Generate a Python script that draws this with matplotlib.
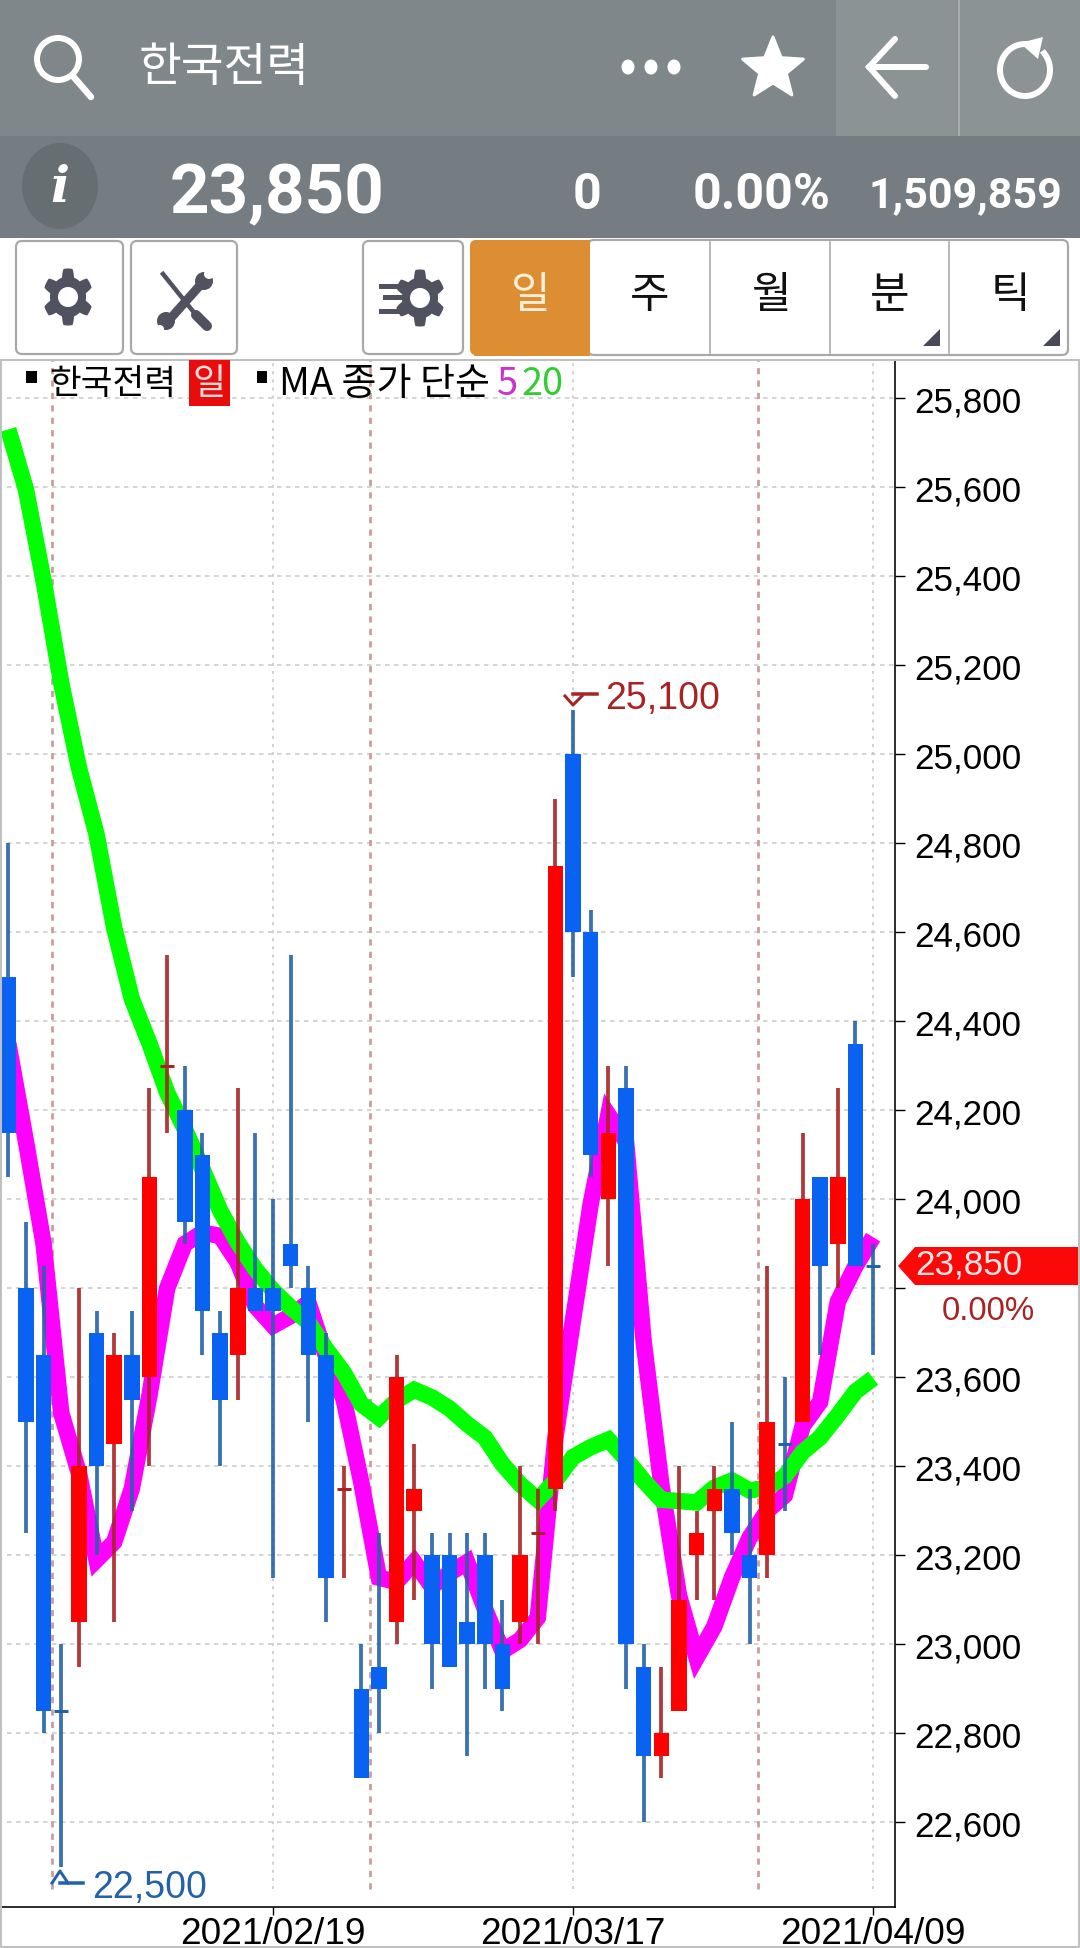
import numpy as np
import matplotlib
matplotlib.use("Agg")
import matplotlib.pyplot as plt
from matplotlib.patches import Polygon, Rectangle, Circle, Ellipse, FancyBboxPatch

W, H = 1080, 1949
KR = ["Noto Sans CJK KR", "DejaVu Sans"]
plt.rcParams["font.family"] = ["Liberation Sans", "DejaVu Sans"]

# candles: B = falling (blue), R = rising (red)
candle_colors = list("BBBBRBRBRR" "BBBRBBBBBR" "BBRRBBBBBR" "RRBBRBBRRR" "RBBRBRBRBB")
body_top = [24500, 23800, 23650, 22850, 23400, 23700, 23650, 23650, 24050, 24300,
            24200, 24100, 23700, 23800, 23800, 23800, 23900, 23800, 23650, 23350,
            22900, 22950, 23600, 23350, 23200, 23200, 23050, 23200, 23000, 23200,
            23250, 24750, 25000, 24600, 24150, 24250, 22950, 22800, 23100, 23250,
            23350, 23350, 23200, 23500, 23450, 24000, 24050, 24050, 24350, 23850]
body_bot = [24150, 23500, 22850, 22850, 23050, 23400, 23450, 23550, 23600, 24300,
            23950, 23750, 23550, 23650, 23750, 23750, 23850, 23650, 23150, 23350,
            22700, 22900, 23050, 23300, 23000, 22950, 23000, 23000, 22900, 23050,
            23250, 23350, 24600, 24100, 24000, 23000, 22750, 22750, 22850, 23200,
            23300, 23250, 23150, 23200, 23450, 23500, 23850, 23900, 23850, 23850]
highs = [24800, 23950, 23850, 23000, 23800, 23750, 23700, 23750, 24250, 24550,
         24300, 24150, 23750, 24250, 24150, 24000, 24550, 23850, 23700, 23400,
         23000, 23250, 23650, 23450, 23250, 23250, 23250, 23250, 23100, 23400,
         23350, 24900, 25100, 24650, 24300, 24300, 23000, 22950, 23400, 23300,
         23400, 23500, 23350, 23850, 23600, 24150, 24050, 24250, 24400, 23900]
lows = [24050, 23250, 22800, 22500, 22950, 23200, 23050, 23300, 23400, 24150,
        23900, 23650, 23400, 23550, 23750, 23150, 23800, 23500, 23050, 23150,
        22700, 22800, 23000, 23100, 22900, 22950, 22750, 22900, 22850, 23000,
        23000, 23300, 24500, 24050, 23850, 22900, 22600, 22700, 22850, 23100,
        23100, 23200, 23000, 23150, 23300, 23500, 23650, 23800, 23850, 23650]

ma5 = [24350, 24130, 23900, 23520, 23385, 23190, 23230, 23350, 23560, 23800,
       23900, 23925, 23918, 23858, 23760, 23716, 23738, 23768, 23648, 23551,
       23364, 23150, 23140, 23185, 23130, 23160, 23185, 23080, 22985, 23010,
       23060, 23465, 23730, 23990, 24190, 24130, 23680, 23360, 23110, 22970,
       23040, 23150, 23240, 23300, 23335, 23490, 23545, 23770, 23850, 23915]
ma20 = [25730, 25595, 25390, 25160, 24970, 24820, 24610, 24450, 24350, 24240,
        24158, 24068, 23975, 23903, 23843, 23795, 23757, 23724, 23664, 23611,
        23540, 23510, 23548, 23572, 23555, 23530, 23495, 23465, 23405, 23360,
        23325, 23368, 23421, 23443, 23460, 23416, 23368, 23325, 23322, 23319,
        23352, 23368, 23346, 23352, 23378, 23432, 23465, 23515, 23568, 23598]

y_ticks = [25800, 25600, 25400, 25200, 25000, 24800, 24600, 24400, 24200, 24000,
           23800, 23600, 23400, 23200, 23000, 22800, 22600]
date_pos = [15, 32, 49]
date_labels = ["2021/02/19", "2021/03/17", "2021/04/09"]
month_lines = [2.5, 20.5, 42.5]

RED, BLUE = "#ff0000", "#0a62f2"
RED_W, BLUE_W = "#a82424", "#2462a8"


def px(s):
    return s * 0.72


fig = plt.figure(figsize=(W / 100, H / 100), dpi=100, facecolor="white")

# ---- chart
top, bottom, right = 361, 1907.5, 895
ax = fig.add_axes([0, 1 - bottom / H, right / W, (bottom - top) / H])
n = len(body_top)
x = np.arange(n)
ax.set_xlim(-0.47, 50.24)
ax.set_ylim(22411, 25886)

ax.hlines(y_ticks, -0.07, 50.24, colors="#c8c8c8", lw=px(1.5), linestyles=(0, (3, 3)), zorder=1)
ax.vlines(date_pos, 22450, 25886, colors="#c4c4c4", lw=px(1.5), linestyles=(0, (2, 3.4)), zorder=1)
ax.vlines(month_lines, 22450, 25886, colors="#c99c9c", lw=px(2.7), linestyles=(0, (2.3, 2.3)), zorder=1)

ax.plot(x, ma5, color="#ff00ff", lw=px(16.5), solid_joinstyle="miter", solid_capstyle="butt", zorder=2)
ax.plot(x, ma20, color="#00ff00", lw=px(16.5), solid_joinstyle="miter", solid_capstyle="butt", zorder=3)

body_c = [RED if c == "R" else BLUE for c in candle_colors]
wick_c = [RED_W if c == "R" else BLUE_W for c in candle_colors]
ax.vlines(x, lows, highs, colors=wick_c, lw=px(3.8), alpha=0.9, zorder=4)
heights = np.array(body_top) - np.array(body_bot)
solid = heights > 0
ax.bar(x[solid], heights[solid], bottom=np.array(body_bot)[solid], width=0.88,
       color=[c for c, s in zip(body_c, solid) if s], zorder=5)
for i in x[~solid]:
    ax.hlines(body_top[i], i - 0.4, i + 0.4, colors=wick_c[i], lw=px(3), zorder=5)

ax.yaxis.tick_right()
ax.set_yticks(y_ticks)
# the price tag takes the place of the 23,800 label
ax.set_yticklabels(["" if v == 23800 else f"{v:,}" for v in y_ticks], fontsize=px(35), color="black")
ax.set_xticks(date_pos)
ax.set_xticklabels(date_labels, fontsize=px(37), color="black")
ax.tick_params(axis="y", length=px(10), width=1, pad=px(9))
ax.tick_params(axis="x", length=px(8), width=1, pad=px(2))
ax.spines["top"].set_visible(False)
ax.spines["left"].set_visible(False)
ax.spines["right"].set_linewidth(px(1.6))
ax.spines["bottom"].set_linewidth(px(1.6))

# ---- everything around the chart, in pixel coordinates
ov = fig.add_axes([0, 0, 1, 1], zorder=5)
ov.set_xlim(0, W)
ov.set_ylim(H, 0)
ov.axis("off")
ov.patch.set_alpha(0)


def rect(x0, y0, x1, y1, color, **kw):
    ov.add_patch(Rectangle((x0, y0), x1 - x0, y1 - y0, facecolor=color, edgecolor="none", **kw))


def label(tx, ty, s, size, color="white", ha="center", **kw):
    kw.setdefault("family", KR)
    ov.text(tx, ty, s, fontsize=px(size), color=color, ha=ha, va="center", **kw)


def gear(cx, cy, r=28.5, hole=10, color="#50525f"):
    ang = np.linspace(0, 2 * np.pi, 240)
    rad = r - 4 + 4 * np.clip(2.2 * np.cos(6 * (ang + np.pi / 2)), -1, 1)
    ov.add_patch(Polygon(np.c_[cx + rad * 0.88 * np.cos(ang), cy + rad * np.sin(ang)],
                         facecolor=color, edgecolor="none"))
    ov.add_patch(Circle((cx, cy), hole, facecolor="white", edgecolor="none"))


def button(x0, y0, x1, y1):
    ov.add_patch(FancyBboxPatch((x0 + 4, y0 + 4), x1 - x0 - 8, y1 - y0 - 8,
                                boxstyle="round,pad=4,rounding_size=6",
                                facecolor="white", edgecolor="#a8a8a8", lw=px(2.2)))


# top bars
rect(0, 0, W, 137, "#7f878a")
rect(836, 0, W, 137, "#8c9395")
rect(958, 0, 959.5, 137, "#a9afb1")
rect(0, 137, W, 239, "#757d82")

# search icon
ov.add_patch(Circle((58, 60), 21, facecolor="none", edgecolor="white", lw=px(6)))
ov.plot([72, 91], [76, 98], color="white", lw=px(6.5), solid_capstyle="round")
label(139, 68, "한국전력", 46.5, ha="left")

for dx in [628, 651, 674]:
    ov.add_patch(Ellipse((dx, 68), 13, 15, facecolor="white", edgecolor="none"))

# star
a = np.deg2rad(np.arange(10) * 36 - 90)
rr = np.where(np.arange(10) % 2 == 0, 32, 14)
ov.add_patch(Polygon(np.c_[773 + rr * np.cos(a), 70 + rr * np.sin(a)], facecolor="white",
                     edgecolor="white", lw=px(3), joinstyle="round"))

# back arrow
ov.plot([926, 869], [68, 68], color="white", lw=px(6), solid_capstyle="round")
ov.plot([895, 869, 895], [40, 68, 97], color="white", lw=px(6),
        solid_capstyle="round", solid_joinstyle="miter")

# refresh
a = np.deg2rad(np.linspace(-40, 285, 80))
ov.plot(1025 + 25 * np.cos(a), 71 + 26 * np.sin(-a + np.pi), color="white", lw=px(6))
ov.add_patch(Polygon([[1020, 44], [1043, 38], [1038, 60]], facecolor="white", edgecolor="none"))

# info line
ov.add_patch(Ellipse((60, 187), 76, 86, facecolor="#666e72", edgecolor="none"))
ov.text(60, 188, "i", fontsize=px(50), color="white", ha="center", va="center",
        family="DejaVu Serif", style="italic", weight="bold")
label(277, 195, "23,850", 69, weight="bold", family="Roboto")
label(587, 195, "0", 50, weight="bold", family="Roboto")
label(762, 195, "0.00%", 50, weight="bold", family="Roboto")
label(965, 196, "1,509,859", 43, weight="bold", family="Roboto")

# tool buttons
button(16, 242, 123, 355)
button(131, 242, 237, 355)
button(363, 242, 463, 355)
gear(68, 298)
gear(420, 299)
for ly, lx in [(287, 381), (298, 385), (312, 381)]:
    ov.plot([lx, 402], [ly, ly], color="#50525f", lw=px(5))
# spanner and screwdriver
ov.plot([163, 196], [275, 316], color="#50525f", lw=px(4.5))
ov.plot([196, 207], [316, 327], color="#50525f", lw=px(10), solid_capstyle="round")
ov.plot([203, 170], [283, 320], color="#50525f", lw=px(9))
ov.add_patch(Circle((166, 322), 9, facecolor="#50525f", edgecolor="none"))
ov.add_patch(Circle((204, 282), 9, facecolor="#50525f", edgecolor="none"))
ov.add_patch(Circle((209, 275), 5, facecolor="white", edgecolor="none"))
ov.add_patch(Circle((160, 330), 4, facecolor="white", edgecolor="none"))

# period tabs
ov.add_patch(FancyBboxPatch((590, 243), 476, 111, boxstyle="round,pad=2,rounding_size=6",
                            facecolor="white", edgecolor="#a8a8a8", lw=px(2.2)))
rect(474, 241, 590, 357, "#dd8e32", zorder=2)
ov.add_patch(FancyBboxPatch((472, 243), 30, 111, boxstyle="round,pad=2,rounding_size=6",
                            facecolor="#dd8e32", edgecolor="none"))
for dx in [710, 830, 949]:
    ov.plot([dx, dx], [243, 354], color="#a8a8a8", lw=px(1.6))
for tab, tx, c in [("일", 531, "#fbeed6"), ("주", 650, "#111111"), ("월", 772, "#111111"),
                   ("분", 890, "#111111"), ("틱", 1010, "#111111")]:
    label(tx, 296, tab, 43, color=c, zorder=3)
for tx in [940, 1060]:
    ov.add_patch(Polygon([[tx - 17, 347], [tx, 347], [tx, 330]], facecolor="#47495a", edgecolor="none"))

# frame of the chart
rect(0, 360, W, 362, "#c0c0c0")
rect(0, 360, 1.5, H, "#c0c0c0")
rect(W - 2, 360, W, H, "#c0c0c0")
rect(0, H - 2, W, H, "#c0c0c0")

# legend
rect(26, 372, 37, 384, "black")
label(49, 384, "한국전력", 34.5, color="black", ha="left")
rect(189, 361, 230, 407, "#e80c0c")
label(209.5, 384, "일", 36, color="#ffdcdc")
rect(257, 372, 267, 384, "black")
label(279, 384, "MA 종가 단순", 38, color="black", ha="left")
label(497, 384, "5", 38, color="#cc33cc", ha="left")
label(522, 384, "20", 38, color="#33cc33", ha="left")

# high and low markers
ov.plot([597, 573], [695, 695], color=RED_W, lw=px(3.5))
ov.plot([565, 573, 582], [697, 706, 697], color=RED_W, lw=px(3))
label(605, 699, "25,100", 37.5, color=RED_W, ha="left", family=["Liberation Sans"])
ov.plot([83, 60], [1884, 1884], color=BLUE_W, lw=px(3.5))
ov.plot([52, 60, 68], [1884, 1872, 1884], color=BLUE_W, lw=px(3))
label(92, 1888, "22,500", 37.5, color=BLUE_W, ha="left", family=["Liberation Sans"])

# current price tag
ov.add_patch(Polygon([[898, 1267], [915, 1248], [1078, 1248], [1078, 1286], [915, 1286]],
                     facecolor="#fb0808", edgecolor="none"))
label(915, 1265, "23,850", 35, color="#ffe6e6", ha="left", family=["Liberation Sans"])
label(988, 1311, "0.00%", 33, color=RED_W, family=["Liberation Sans"])

fig.savefig("out.png", dpi=100)
